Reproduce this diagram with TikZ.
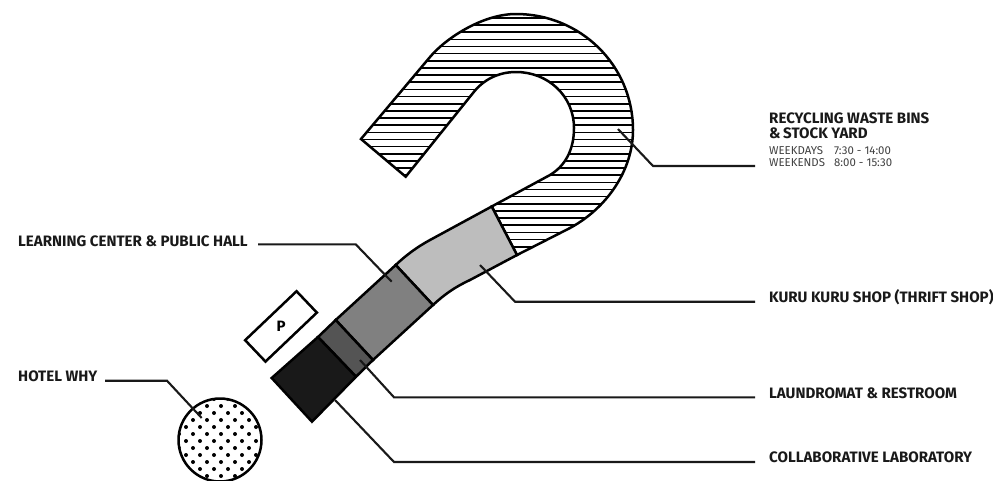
\documentclass[tikz,border=0pt]{standalone}
\usepackage{fontspec}
\setmainfont{Fira Sans}
\definecolor{lg}{gray}{0.74}
\definecolor{mg}{gray}{0.5}
\definecolor{dg}{gray}{0.33}
\definecolor{bk}{gray}{0.1}
\tikzset{
  x=1pt,y=-1pt,
  outl/.style={line width=2.5pt,line join=miter,draw=black},
  lead/.style={line width=2.1pt,draw=black!90},
  lab/.style={font=\bfseries\fontsize{15.1}{16}\selectfont,anchor=west,inner sep=0pt,text=black!90},
  subl/.style={font=\fontsize{11.4}{12}\selectfont,anchor=west,inner sep=0pt,text=black!75},
}
\begin{document}
\begin{tikzpicture}
\useasboundingbox (0,0) rectangle (993,480);
% hook outline path
\def\hook{(491.7,206.5) -- (550,175) .. controls (565,166) and (574,150) .. (574,128)
  .. controls (574,96) and (548,72) .. (516,72)
  .. controls (498,72) and (483,80) .. (473,93) -- (405.7,176.7) -- (361,139) -- (430,57)
  .. controls (445,39) and (482,14) .. (516,14)
  .. controls (580,14) and (633,65) .. (633,130)
  .. controls (633,170) and (607,208) .. (570,228) -- (517,255) -- cycle}
\begin{scope}
\clip \hook;
\foreach \yy in {17.9,25.05,...,260} \draw[line width=1.6pt] (350,\yy) -- (640,\yy);
\end{scope}
\draw[outl] \hook;
\draw[outl,fill=lg] (491.7,206.5) -- (517,255) -- (470,280) .. controls (455,287) and (445,294) .. (433,305) -- (395.7,265) .. controls (405,256) and (417,247) .. (430,240) -- cycle;
\draw[outl,fill=mg] (395.7,265) -- (433,305) -- (373,360) -- (335.7,320) -- cycle;
\draw[outl,fill=dg] (335.7,320) -- (373,360) -- (356,376.7) -- (318,337) -- cycle;
\draw[outl,fill=bk] (318,337) -- (356,376.7) -- (312,421.7) -- (271.7,378) -- cycle;
\node[outl,draw,shape=rectangle,minimum width=71pt,minimum height=29.5pt,rotate=43.6,inner sep=0pt] (park) at (281,326.4) {};
\node[font=\bfseries\fontsize{15}{16}\selectfont] (pl) at (281,326) {P};
% hotel
\node[outl,draw,circle,minimum size=83pt,inner sep=0pt] (hotel) at (220,440) {};
\begin{scope}
\clip (220,440) circle (40.5);
\foreach \i in {-4,...,4} \foreach \j in {-1,...,6}
  \fill (221+\i*14,406+\j*14) circle (2) (214+\i*14,413+\j*14) circle (2);
\end{scope}
% labels
\node[lab] (l1) at (769,118) {RECYCLING WASTE BINS};
\node[lab] (l1b) at (769,133.5) {\&\,STOCK YARD};
\node[subl] (s1) at (769,151) {\makebox[65pt][l]{WEEKDAYS}7:30 - 14:00};
\node[subl] (s2) at (769,163) {\makebox[65pt][l]{WEEKENDS}8:00 - 15:30};
\node[lab] (l2) at (769,297) {KURU KURU SHOP (THRIFT SHOP)};
\node[lab] (l3) at (769,393) {LAUNDROMAT \& RESTROOM};
\node[lab] (l4) at (769,457) {COLLABORATIVE LABORATORY};
\node[lab] (l5) at (18,241) {LEARNING CENTER \& PUBLIC HALL};
\node[lab] (l6) at (18,376.7) {HOTEL WHY};
% leaders
\coordinate (e1) at (755,166); \coordinate (a1) at (618,129);
\coordinate (e2) at (755,301.7); \coordinate (a2) at (480,265);
\coordinate (e3) at (755,397.3); \coordinate (a3) at (360,360);
\coordinate (e4) at (755,462); \coordinate (a4) at (335,400);
\coordinate (e5) at (258,244.3); \coordinate (a5) at (391.7,281.7);
\coordinate (e6) at (105,380.7); \coordinate (a6) at (201.7,418);
\draw[lead] (a1) -- (653,166) -- (e1);
\draw[lead] (a2) -- (515,301.7) -- (e2);
\draw[lead] (a3) -- (394,397.3) -- (e3);
\draw[lead] (a4) -- (394,462) -- (e4);
\draw[lead] (e5) -- (355.7,244.3) -- (a5);
\draw[lead] (e6) -- (167,380.7) -- (a6);
\end{tikzpicture}
\end{document}
